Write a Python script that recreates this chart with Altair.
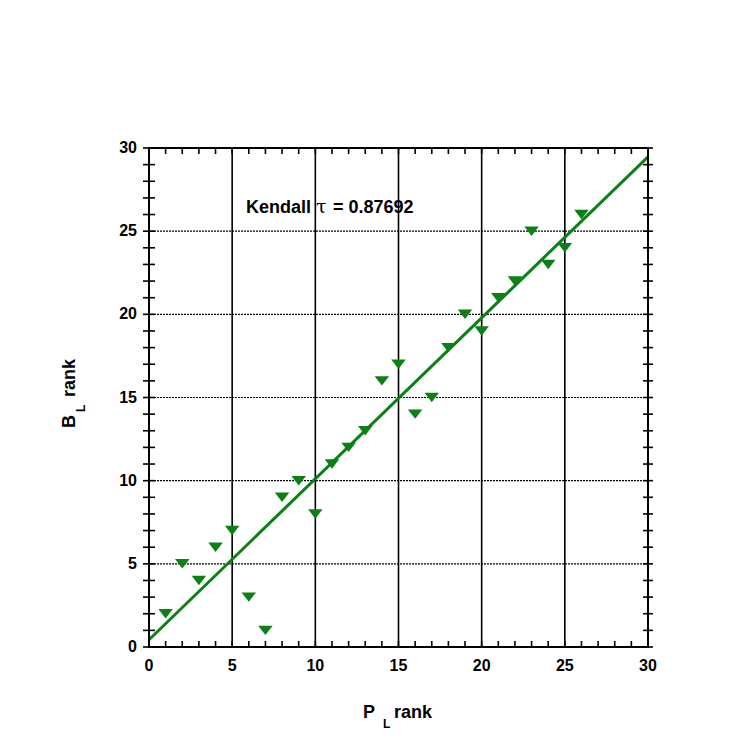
import altair as alt
import pandas as pd

# ---- data ----
P_RANK = list(range(1, 27))
B_RANK = [2, 5, 4, 6, 7, 3, 1, 9, 10, 8, 11, 12, 13, 16, 17, 14, 15, 18, 20, 19,
          21, 22, 25, 23, 24, 26]
MAJOR_TICKS = [0, 5, 10, 15, 20, 25, 30]
GRID_LINES = [5, 10, 15, 20, 25]
MINOR_TICKS = list(range(0, 31))
KENDALL_WORD = "Kendall"
KENDALL_SYMBOL = "τ"
KENDALL_VALUE = "= 0.87692"

GREEN = "#0a8016"
W = H = 499
FONT = "Liberation Sans"

df = pd.DataFrame({"P": P_RANK, "B": B_RANK})
ticks = pd.DataFrame({"t": MINOR_TICKS})
majors = pd.DataFrame({"m": MAJOR_TICKS})
grid = pd.DataFrame({"g": GRID_LINES})

xs = alt.Scale(domain=[0, 30], nice=False, zero=False)
ys = alt.Scale(domain=[0, 30], nice=False, zero=False)
XN = dict(scale=xs, axis=None)
YN = dict(scale=ys, axis=None)

# grid
v_grid = alt.Chart(grid).mark_rule(color="black", strokeWidth=1.6).encode(
    x=alt.X("g:Q", **XN))
h_grid = alt.Chart(grid).mark_rule(color="black", strokeWidth=1.1,
                                   strokeDash=[2, 1]).encode(
    y=alt.Y("g:Q", **YN))

tri = "M-1,-0.65L1,-0.65L0,0.65Z"
points = alt.Chart(df).mark_point(shape=tri, size=210, filled=True, color=GREEN,
                                  opacity=1, strokeWidth=0).encode(
    x=alt.X("P:Q", **XN), y=alt.Y("B:Q", **YN))

fit = alt.Chart(df).transform_regression("P", "B", extent=[0, 30]).mark_line(
    color=GREEN, strokeWidth=3).encode(
    x=alt.X("P:Q", **XN), y=alt.Y("B:Q", **YN))

tick_style = dict(color="black", strokeWidth=1.6)
t_bottom = alt.Chart(ticks).mark_rule(**tick_style).encode(
    x=alt.X("t:Q", **XN), y=alt.value(H), y2=alt.value(H - 6))
t_top = alt.Chart(ticks).mark_rule(**tick_style).encode(
    x=alt.X("t:Q", **XN), y=alt.value(0), y2=alt.value(6))
t_left = alt.Chart(ticks).mark_rule(**tick_style).encode(
    y=alt.Y("t:Q", **YN), x=alt.value(-6), x2=alt.value(6))
t_right = alt.Chart(ticks).mark_rule(**tick_style).encode(
    y=alt.Y("t:Q", **YN), x=alt.value(W - 5), x2=alt.value(W + 5))

# tick labels
lab_style = dict(font=FONT, fontSize=16, fontWeight="bold", color="black")
x_labels = alt.Chart(majors).mark_text(align="center", baseline="top",
                                       **lab_style).encode(
    x=alt.X("m:Q", **XN), y=alt.value(H + 11), text="m:Q")
y_labels = alt.Chart(majors).mark_text(align="right", baseline="middle",
                                       **lab_style).encode(
    y=alt.Y("m:Q", **YN), x=alt.value(-12), text="m:Q")

frame = alt.Chart(pd.DataFrame({"s": ["frame"]})).mark_rect(
    fill=None, stroke="black", strokeWidth=2).encode(
    x=alt.value(0), x2=alt.value(W), y=alt.value(0), y2=alt.value(H))


def label(txt, x, y, size, angle=0, weight="bold", align="left",
          baseline="alphabetic", font=FONT):
    return alt.Chart(pd.DataFrame({"s": [txt]})).mark_text(
        font=font, fontSize=size, fontWeight=weight, color="black",
        align=align, baseline=baseline, angle=angle).encode(
        text="s:N", x=alt.value(x), y=alt.value(y))


titles = [
    # x title: P_L rank
    label("P", 214, 570, 18),
    label("L", 234, 580, 12),
    label("rank", 245, 570, 18),
    # y title: B_L rank (rotated)
    label("B", -74, 280, 18, angle=270),
    label("L", -64, 264, 12, angle=270),
    label("rank", -74, 249, 18, angle=270),
]

kendall = [
    label(KENDALL_WORD, 97, 65, 18),
    label(KENDALL_SYMBOL, 167, 65, 19, weight="normal", font="DejaVu Serif"),
    label(KENDALL_VALUE, 184, 65, 18),
]

chart = alt.layer(v_grid, h_grid, fit, points, t_bottom, t_top, t_left, t_right,
                  frame, x_labels, y_labels, *kendall, *titles).properties(
    width=W, height=H,
    autosize=alt.AutoSizeParams(type="none"),
    padding={"left": 141, "top": 140, "right": 90, "bottom": 90},
).configure_view(stroke=None).configure(background="white")

chart.save("out.html", embed_options={"renderer": "svg", "actions": False})
